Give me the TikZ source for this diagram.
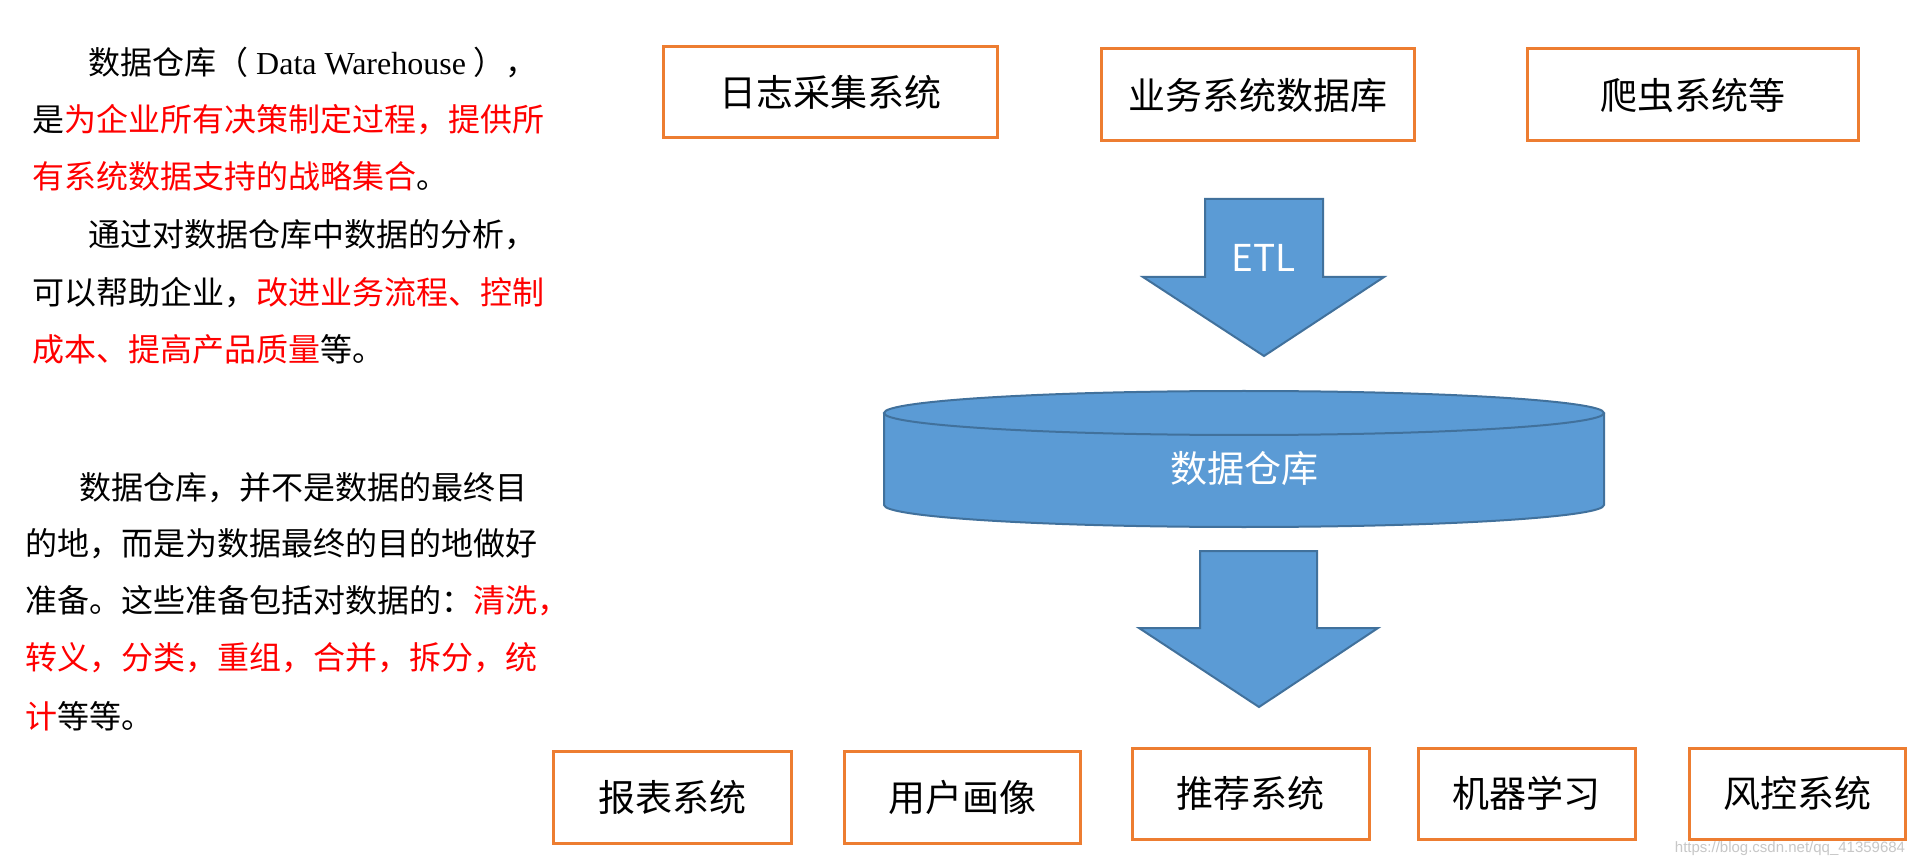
\documentclass[tikz,border=0pt]{standalone}
\usepackage{fontspec}
\setmainfont{Liberation Serif}
\newfontfamily\cjk{Noto Sans CJK SC}
\newfontfamily\lat{Liberation Serif}
\newfontfamily\wmfont{Liberation Sans}
\definecolor{boxorange}{HTML}{ED7D31}
\definecolor{arrowblue}{HTML}{5B9BD5}
\definecolor{arrowedge}{HTML}{41719C}
\definecolor{hl}{HTML}{FF0000}
\begin{document}
\begin{tikzpicture}[x=1pt,y=-1pt]
\tikzset{
  para/.style={anchor=base west, inner sep=0pt, font=\cjk\fontsize{32}{32}\selectfont, text=black},
  sysbox/.style={draw=boxorange, line width=3pt, fill=white, inner sep=0pt, font=\cjk\fontsize{37}{40}\selectfont},
  blockarrow/.style={fill=arrowblue, draw=arrowedge, line width=2pt, line join=miter},
  lbl/.style={inner sep=0pt, text=white, font=\cjk\fontsize{37}{40}\selectfont},
  wm/.style={inner sep=0pt, text=black!22, font=\wmfont\fontsize{15}{15}\selectfont},
}
\useasboundingbox[fill=white] (0,0) rectangle (1920,866);

% left text
\node[para] (t1) at (88,74.5) {数据仓库（{\lat\ Data Warehouse }），};
\node[para] (t2) at (32,132) {是\textcolor{hl}{为企业所有决策制定过程，提供所}};
\node[para] (t3) at (32,189) {\textcolor{hl}{有系统数据支持的战略集合}。};
\node[para] (t4) at (88,247) {通过对数据仓库中数据的分析，};
\node[para] (t5) at (32,305) {可以帮助企业，\textcolor{hl}{改进业务流程、控制}};
\node[para] (t6) at (32,362) {\textcolor{hl}{成本、提高产品质量}等。};
\node[para] (t7) at (79,499) {数据仓库，并不是数据的最终目};
\node[para] (t8) at (25,555) {的地，而是为数据最终的目的地做好};
\node[para] (t9) at (25,612) {准备。这些准备包括对数据的：\textcolor{hl}{清洗，}};
\node[para] (t10) at (25,669) {\textcolor{hl}{转义，分类，重组，合并，拆分，统}};
\node[para] (t11) at (25,728) {\textcolor{hl}{计}等等。};

% source boxes
\node[sysbox, minimum width=334pt, minimum height=91pt] (log) at (830,92.5) {日志采集系统};
\node[sysbox, minimum width=313pt, minimum height=92pt] (biz) at (1257.5,95) {业务系统数据库};
\node[sysbox, minimum width=331pt, minimum height=92pt] (crawl) at (1692.5,95) {爬虫系统等};

% ETL arrow
\draw[blockarrow] (1205,199) -- (1323,199) -- (1323,277) -- (1384,277) -- (1264,356)
  -- (1143,277) -- (1205,277) -- cycle;
\node[lbl, anchor=base] (etl) at (1264,272) {ETL};

% data warehouse cylinder
\fill[arrowblue] (884,413) -- (884,505)
  .. controls (884,517.2) and (1045.2,527) .. (1244,527)
  .. controls (1442.8,527) and (1604,517.2) .. (1604,505) -- (1604,413) -- cycle;
\draw[arrowedge, line width=2pt] (884,413) -- (884,505)
  .. controls (884,517.2) and (1045.2,527) .. (1244,527)
  .. controls (1442.8,527) and (1604,517.2) .. (1604,505) -- (1604,413);
\draw[blockarrow] (1244,413) ellipse [x radius=360pt, y radius=22pt];
\node[lbl] (dw) at (1244,469) {数据仓库};

% output arrow
\draw[blockarrow] (1200,551) -- (1317,551) -- (1317,628) -- (1378,628) -- (1259,707)
  -- (1139,628) -- (1200,628) -- cycle;

% target boxes
\node[sysbox, minimum width=238pt, minimum height=92pt] (report) at (672,797) {报表系统};
\node[sysbox, minimum width=236pt, minimum height=92pt] (profile) at (962,797) {用户画像};
\node[sysbox, minimum width=237pt, minimum height=91pt] (recom) at (1250.5,793.5) {推荐系统};
\node[sysbox, minimum width=217pt, minimum height=91pt] (ml) at (1526.5,793.5) {机器学习};
\node[sysbox, minimum width=216pt, minimum height=91pt] (risk) at (1797,793.5) {风控系统};

\node[wm] (mark) at (1790,849) {https://blog.csdn.net/qq\_41359684};
\end{tikzpicture}
\end{document}
